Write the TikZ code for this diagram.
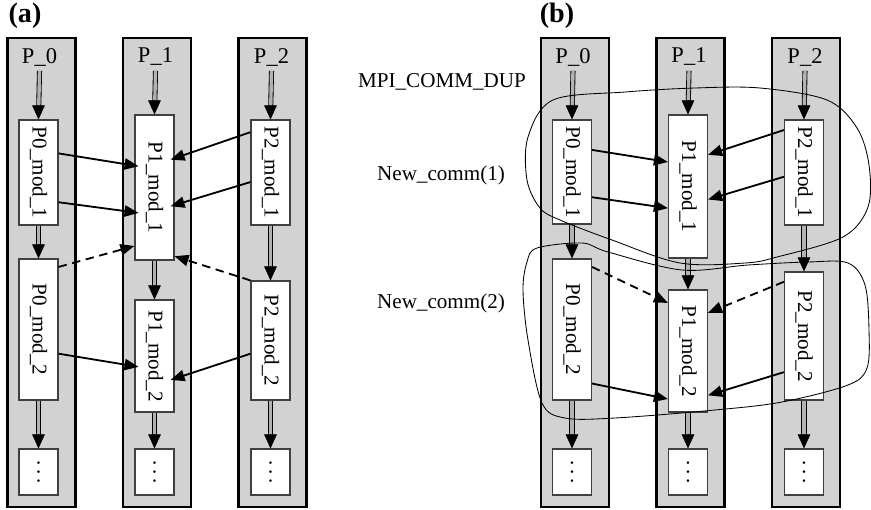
\documentclass[tikz,border=0pt]{standalone}
\usepackage{fontspec}
\usepackage{graphicx}
\setmainfont{Liberation Serif}
\usetikzlibrary{arrows.meta,calc}

\begin{document}
\begin{tikzpicture}[x=0.025cm,y=-0.025cm,font=\fontsize{15}{18}\selectfont,
  col/.style={draw=black,line width=1.8pt,fill=gray!35},
  box/.style={draw=black!75,line width=0.8pt,fill=white,minimum width=0.975cm,inner sep=0pt},
  msg/.style={line width=1.3pt,-{Triangle[length=10pt,width=8pt]}},
  deep/.style={shorten >=-3pt},
  shaft/.style={double=gray!60,double distance=2.4pt,line width=0.6pt,shorten >=8pt},
  flowtip/.style={-{Triangle[length=10pt,width=9pt]}},
  comm/.style={line width=0.6pt},
  tag/.style={font=\fontsize{20}{24}\selectfont\bfseries}]
  \useasboundingbox (0,0) rectangle (871,509);

  % process columns, headers and the trailing boxes
  \foreach \p/\ox in {a/0,b/533.5}{
    \foreach \i/\cx/\bx in {0/41.5/38.5,1/157/154.5,2/272.5/270.5}{
      \draw[col] ({\ox+\cx-34},38) rectangle ({\ox+\cx+34},507);
      \node[font=\fontsize{16}{18}\selectfont] (\p h\i) at ({\ox+\bx+1},57) {P\_\i};
      \node[box,minimum height=1.15cm] (\p d\i) at ({\ox+\bx},472) {\rotatebox{-90}{.\hspace{2.5pt}.\hspace{2.5pt}.}};
    }
  }

  \node[tag] (la) at (25,16) {(a)};
  \node[tag] (lb) at (557,16) {(b)};

  % panel (a) modules
  \node[box,minimum height=2.625cm] (am01) at (38.5,172.5) {\rotatebox{-90}{P0\_mod\_1}};
  \node[box,minimum height=3.625cm] (am11) at (154.5,187.5) {\rotatebox{-90}{P1\_mod\_1}};
  \node[box,minimum height=2.625cm] (am21) at (270.5,172.5) {\rotatebox{-90}{P2\_mod\_1}};
  \node[box,minimum height=3.525cm] (am02) at (38.5,329.5) {\rotatebox{-90}{P0\_mod\_2}};
  \node[box,minimum height=2.8cm] (am12) at (154.5,356) {\rotatebox{-90}{P1\_mod\_2}};
  \node[box,minimum height=2.975cm] (am22) at (270.5,340.5) {\rotatebox{-90}{P2\_mod\_2}};

  % panel (b) modules
  \node[box,minimum height=2.6cm] (bm01) at (572,172) {\rotatebox{-90}{P0\_mod\_1}};
  \node[box,minimum height=3.575cm] (bm11) at (688,186.5) {\rotatebox{-90}{P1\_mod\_1}};
  \node[box,minimum height=2.625cm] (bm21) at (804,172.5) {\rotatebox{-90}{P2\_mod\_1}};
  \node[box,minimum height=3.525cm] (bm02) at (572,329.5) {\rotatebox{-90}{P0\_mod\_2}};
  \node[box,minimum height=3.05cm] (bm12) at (688,351) {\rotatebox{-90}{P1\_mod\_2}};
  \node[box,minimum height=3.2cm] (bm22) at (804,336) {\rotatebox{-90}{P2\_mod\_2}};

  \node (dup) at (442,82) {MPI\_COMM\_DUP};
  \node (nc1) at (441,175) {New\_comm(1)};
  \node (nc2) at (441,303) {New\_comm(2)};

  % control flow down each process
  \foreach \p in {a,b}{
    \foreach \s/\t in {h0/m01,m01/m02,m02/d0,h1/m11,m11/m12,m12/d1,h2/m21,m21/m22,m22/d2}{
      \draw[shaft] (\p\s.south) -- (\p\t.north);
      \draw[flowtip] ([yshift=10pt]\p\t.north) -- (\p\t.north);
    }
  }

  % messages, panel (a)
  \draw[msg,deep] ($(am01.north east)!.32!(am01.south east)$) -- ($(am11.north west)!.35!(am11.south west)$);
  \draw[msg,deep] ($(am01.north east)!.78!(am01.south east)$) -- ($(am11.north west)!.67!(am11.south west)$);
  \draw[msg,deep] ($(am21.north west)!.12!(am21.south west)$) -- ($(am11.north east)!.30!(am11.south east)$);
  \draw[msg,deep] ($(am21.north west)!.59!(am21.south west)$) -- ($(am11.north east)!.62!(am11.south east)$);
  \draw[msg,dash pattern=on 6pt off 4pt] ($(am02.north east)!.06!(am02.south east)$) -- ($(am11.north west)!.9!(am11.south west)$);
  \draw[msg,dash pattern=on 6pt off 4pt] (am22.north west) -- ($(am11.north east)!.97!(am11.south east)$);
  \draw[msg,deep] ($(am02.north east)!.67!(am02.south east)$) -- ($(am12.north west)!.59!(am12.south west)$);
  \draw[msg,deep] ($(am22.north west)!.61!(am22.south west)$) -- ($(am12.north east)!.70!(am12.south east)$);

  % messages, panel (b)
  \draw[msg] ($(bm01.north east)!.29!(bm01.south east)$) -- ($(bm11.north west)!.33!(bm11.south west)$);
  \draw[msg] ($(bm01.north east)!.74!(bm01.south east)$) -- ($(bm11.north west)!.65!(bm11.south west)$);
  \draw[msg] ($(bm21.north west)!.10!(bm21.south west)$) -- ($(bm11.north east)!.28!(bm11.south east)$);
  \draw[msg] ($(bm21.north west)!.54!(bm21.south west)$) -- ($(bm11.north east)!.59!(bm11.south east)$);
  \draw[msg,dash pattern=on 6pt off 4pt] ($(bm02.north east)!.06!(bm02.south east)$) -- ($(bm12.north west)!.11!(bm12.south west)$);
  \draw[msg,dash pattern=on 6pt off 4pt] ($(bm22.north west)!.08!(bm22.south west)$) -- ($(bm12.north east)!.19!(bm12.south east)$);
  \draw[msg] ($(bm02.north east)!.88!(bm02.south east)$) -- ($(bm12.north west)!.89!(bm12.south west)$);
  \draw[msg] ($(bm22.north west)!.78!(bm22.south west)$) -- ($(bm12.north east)!.86!(bm12.south east)$);

  % communicator outlines
  \draw[comm] plot[smooth cycle,tension=0.55] coordinates {(553,100) (625,92) (695,88) (760,88) (827,100) (857,128) (869,165) (868,207) (843,237) (777,257) (745,263) (680,263) (612,240) (560,220) (540,208) (527,180) (528,137)};
  \draw[comm] plot[smooth cycle,tension=0.55] coordinates {(537,248) (582,243) (608,252) (682,270) (748,265) (808,262) (848,263) (865,285) (869,330) (867,368) (848,385) (782,402) (715,410) (615,418) (565,418) (542,403) (528,340) (523,290) (527,262)};
\end{tikzpicture}
\end{document}
